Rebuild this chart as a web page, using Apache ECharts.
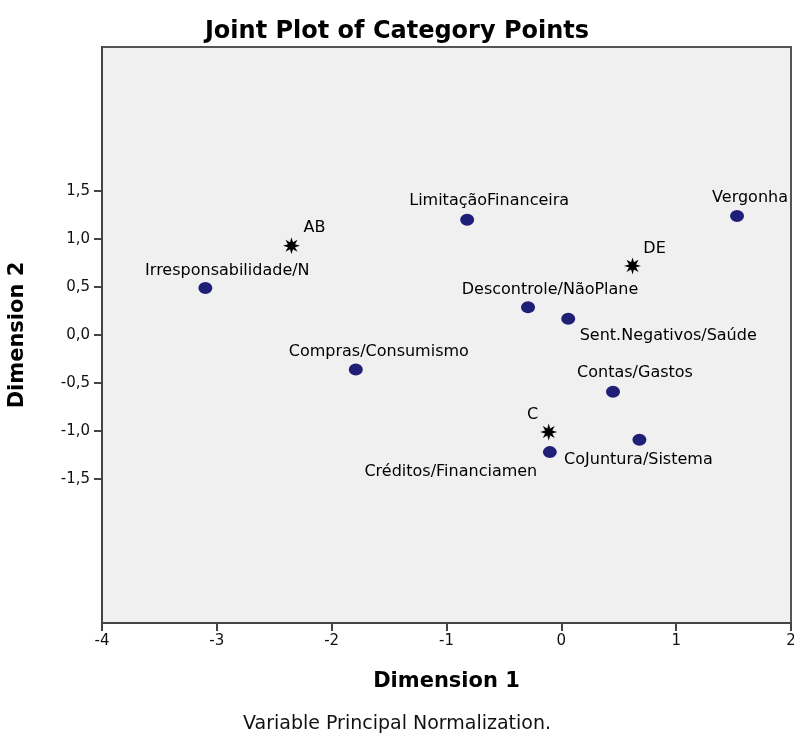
<!DOCTYPE html>
<html>
<head>
<meta charset="utf-8">
<script src="https://cdn.jsdelivr.net/npm/echarts@6/dist/echarts.min.js"></script>
<style>
    body { margin: 0; background: #fff; }
    #chart { width: 794px; height: 739px; }
</style>
</head>
<body>
<div id="chart"></div>
<script>
    // category points (dots)
    var catNames = ['Irresponsabilidade/N', 'LimitaçãoFinanceira', 'Vergonha', 'Descontrole/NãoPlane',
        'Sent.Negativos/Saúde', 'Compras/Consumismo', 'Contas/Gastos', 'Créditos/Financiamen', 'CoJuntura/Sistema'];
    var catDim1 = [-3.10, -0.82, 1.53, -0.29, 0.06, -1.79, 0.45, -0.10, 0.68];
    var catDim2 = [0.49, 1.20, 1.24, 0.29, 0.17, -0.36, -0.59, -1.22, -1.09];

    // class points (stars)
    var classNames = ['AB', 'DE', 'C'];
    var classDim1 = [-2.35, 0.62, -0.11];
    var classDim2 = [0.93, 0.72, -1.01];

    var xTicks = [-4, -3, -2, -1, 0, 1, 2];
    var yTicks = [-1.5, -1, -0.5, 0, 0.5, 1, 1.5];

    // where each label sits relative to its point (center offset, px)
    var labelOffset = {
        'Irresponsabilidade/N': [22, -17],
        'LimitaçãoFinanceira': [22, -19],
        'Vergonha': [13, -18],
        'Descontrole/NãoPlane': [22, -17],
        'Sent.Negativos/Saúde': [100, 17],
        'Compras/Consumismo': [23, -18],
        'Contas/Gastos': [22, -19],
        'Créditos/Financiamen': [-99, 20],
        'CoJuntura/Sistema': [-1, 20],
        'AB': [23, -18],
        'DE': [22, -17],
        'C': [-16, -17]
    };

    var starPath = 'path://M10,0L11.72,5.84L17.07,2.93L14.16,8.28L20,10L14.16,11.72L17.07,17.07L11.72,14.16L10,20L8.28,14.16L2.93,17.07L5.84,11.72L0,10L5.84,8.28L2.93,2.93L8.28,5.84Z';
    var font = 'DejaVu Sans';

    function buildData(names, xs, ys) {
        return names.map(function (n, i) {
            return {
                name: n,
                value: [xs[i], ys[i]],
                label: { offset: labelOffset[n] }
            };
        });
    }

    var chart = echarts.init(document.getElementById('chart'));
    var option = {
        animation: false,
        backgroundColor: '#ffffff',
        title: [
            {
                text: 'Joint Plot of Category Points',
                left: 'center',
                top: 15,
                textStyle: { fontFamily: font, fontWeight: 'bold', fontSize: 24, color: '#000' }
            },
            {
                text: 'Variable Principal Normalization.',
                left: 'center',
                top: 710,
                textStyle: { fontFamily: font, fontWeight: 'normal', fontSize: 19, color: '#111' }
            }
        ],
        grid: {
            left: 102,
            right: 3,
            top: 47,
            bottom: 116,
            outerBoundsMode: 'none',
            containLabel: false,
            show: true,
            backgroundColor: '#f0f0f0',
            borderColor: '#555',
            borderWidth: 2
        },
        xAxis: {
            type: 'value',
            min: -4,
            max: 2,
            interval: 1,
            name: 'Dimension 1',
            nameLocation: 'middle',
            nameGap: 48,
            nameTextStyle: { fontFamily: font, fontWeight: 'bold', fontSize: 21, color: '#000' },
            axisLine: { show: true, onZero: false, lineStyle: { color: '#444', width: 2 } },
            axisTick: { show: true, length: 8, lineStyle: { color: '#444', width: 2 }, customValues: xTicks },
            axisLabel: { fontFamily: font, fontSize: 15, color: '#111', margin: 11, customValues: xTicks },
            splitLine: { show: false }
        },
        yAxis: {
            type: 'value',
            min: -3,
            max: 3,
            name: 'Dimension 2',
            nameLocation: 'middle',
            nameGap: 74,
            nameTextStyle: { fontFamily: font, fontWeight: 'bold', fontSize: 21, color: '#000' },
            axisLine: { show: true, onZero: false, lineStyle: { color: '#444', width: 2 } },
            axisTick: { show: true, length: 8, lineStyle: { color: '#444', width: 2 }, customValues: yTicks },
            axisLabel: {
                fontFamily: font, fontSize: 15, color: '#111', margin: 12,
                customValues: yTicks,
                formatter: function (v) { return v.toFixed(1).replace('.', ','); }
            },
            splitLine: { show: false }
        },
        series: [
            {
                name: 'categories',
                type: 'scatter',
                symbol: 'circle',
                symbolSize: [14, 12],
                itemStyle: { color: '#1f1f78', opacity: 1 },
                label: {
                    show: true,
                    position: 'inside',
                    formatter: '{b}',
                    fontFamily: font,
                    fontSize: 16,
                    color: '#000'
                },
                data: buildData(catNames, catDim1, catDim2)
            },
            {
                name: 'classes',
                type: 'scatter',
                symbol: starPath,
                symbolSize: 17,
                itemStyle: { color: '#000', opacity: 1 },
                label: {
                    show: true,
                    position: 'inside',
                    formatter: '{b}',
                    fontFamily: font,
                    fontSize: 16,
                    color: '#000'
                },
                data: buildData(classNames, classDim1, classDim2)
            }
        ]
    };
    chart.setOption(option);
</script>
</body>
</html>
